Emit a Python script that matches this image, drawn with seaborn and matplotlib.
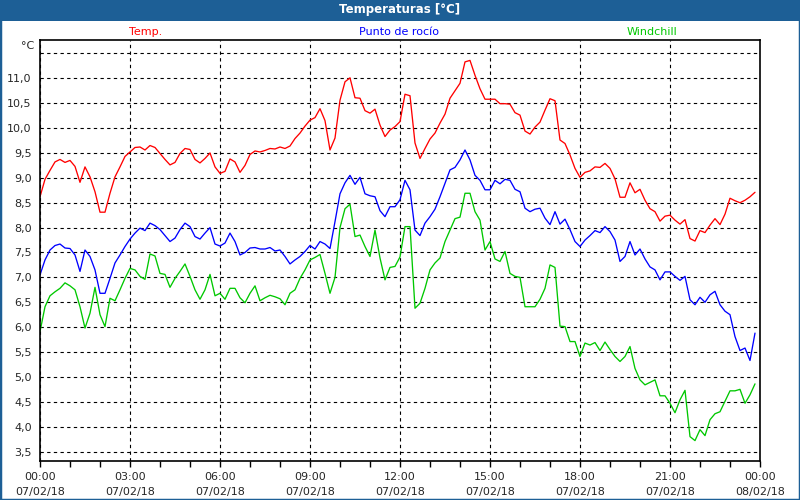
import matplotlib.pyplot as plt
import matplotlib.dates as mdates
import matplotlib.ticker as mticker
import pandas as pd
import seaborn as sns
from matplotlib.patches import Rectangle

sns.set_style('white')
plt.rcParams['font.family'] = ['DejaVu Sans']

# Lecturas cada 10 minutos del 07/02/18
times = pd.date_range('2018-02-07 00:00', periods=144, freq='10min')

temp = [8.62, 8.97, 9.15, 9.32, 9.37, 9.31, 9.35, 9.23, 8.91, 9.22,
        9.02, 8.72, 8.31, 8.31, 8.69, 9.02, 9.22, 9.43, 9.52, 9.61,
        9.62, 9.56, 9.65, 9.61, 9.49, 9.37, 9.26, 9.31, 9.49, 9.59,
        9.57, 9.37, 9.30, 9.39, 9.50, 9.22, 9.09, 9.13, 9.38, 9.32,
        9.11, 9.25, 9.47, 9.54, 9.52, 9.55, 9.59, 9.58, 9.62, 9.59,
        9.64, 9.79, 9.90, 10.04, 10.16, 10.21, 10.39, 10.15, 9.56, 9.80,
        10.56, 10.93, 11.01, 10.61, 10.60, 10.35, 10.30, 10.38, 10.06, 9.83,
        9.96, 10.03, 10.13, 10.68, 10.65, 9.70, 9.39, 9.59, 9.78, 9.90,
        10.10, 10.28, 10.60, 10.75, 10.90, 11.33, 11.36, 11.06, 10.79, 10.58,
        10.58, 10.58, 10.49, 10.49, 10.48, 10.31, 10.26, 9.94, 9.88, 10.02,
        10.12, 10.36, 10.59, 10.55, 9.76, 9.69, 9.46, 9.19, 9.01, 9.11,
        9.14, 9.22, 9.21, 9.29, 9.19, 8.98, 8.61, 8.61, 8.90, 8.70,
        8.77, 8.55, 8.38, 8.32, 8.13, 8.23, 8.25, 8.15, 8.07, 8.16,
        7.78, 7.73, 7.94, 7.90, 8.05, 8.18, 8.06, 8.27, 8.59, 8.54,
        8.50, 8.55, 8.62, 8.71]

dew = [7.05, 7.35, 7.55, 7.64, 7.67, 7.59, 7.58, 7.45, 7.12, 7.55,
       7.42, 7.15, 6.68, 6.68, 6.98, 7.29, 7.45, 7.62, 7.77, 7.89,
       7.99, 7.94, 8.09, 8.04, 7.96, 7.84, 7.72, 7.79, 7.96, 8.09,
       8.02, 7.82, 7.77, 7.89, 8.00, 7.67, 7.63, 7.69, 7.89, 7.72,
       7.45, 7.50, 7.59, 7.60, 7.57, 7.57, 7.60, 7.53, 7.55, 7.42,
       7.27, 7.35, 7.42, 7.52, 7.64, 7.57, 7.72, 7.67, 7.58, 8.12,
       8.68, 8.90, 9.05, 8.87, 9.01, 8.68, 8.64, 8.62, 8.34, 8.22,
       8.42, 8.42, 8.56, 8.95, 8.76, 7.95, 7.84, 8.09, 8.22, 8.37,
       8.62, 8.89, 9.16, 9.21, 9.36, 9.56, 9.36, 9.05, 8.95, 8.76,
       8.76, 8.95, 8.88, 8.97, 8.95, 8.77, 8.72, 8.39, 8.32, 8.37,
       8.39, 8.19, 8.06, 8.32, 8.07, 8.17, 7.96, 7.72, 7.62, 7.75,
       7.84, 7.94, 7.90, 8.02, 7.92, 7.75, 7.32, 7.42, 7.72, 7.45,
       7.57, 7.37, 7.21, 7.15, 6.95, 7.11, 7.11, 7.02, 6.94, 7.02,
       6.55, 6.45, 6.60, 6.50, 6.65, 6.72, 6.45, 6.32, 6.25, 5.81,
       5.53, 5.58, 5.33, 5.88]

windchill = [5.91, 6.41, 6.63, 6.71, 6.78, 6.89, 6.83, 6.75, 6.41, 5.98,
             6.28, 6.80, 6.25, 6.01, 6.58, 6.53, 6.75, 6.98, 7.18, 7.15,
             7.02, 6.96, 7.47, 7.43, 7.08, 7.06, 6.80, 6.98, 7.12, 7.27,
             7.02, 6.75, 6.56, 6.75, 7.06, 6.63, 6.68, 6.56, 6.78, 6.78,
             6.59, 6.49, 6.68, 6.83, 6.53, 6.59, 6.64, 6.61, 6.57, 6.45,
             6.68, 6.75, 6.98, 7.15, 7.35, 7.40, 7.46, 7.08, 6.68, 7.00,
             8.00, 8.38, 8.47, 7.82, 7.85, 7.62, 7.42, 7.95, 7.39, 6.95,
             7.20, 7.22, 7.41, 8.02, 8.02, 6.38, 6.48, 6.78, 7.15, 7.29,
             7.39, 7.72, 7.95, 8.18, 8.21, 8.69, 8.69, 8.32, 8.15, 7.55,
             7.72, 7.37, 7.32, 7.52, 7.08, 7.02, 7.00, 6.41, 6.41, 6.41,
             6.56, 6.78, 7.25, 7.20, 6.02, 6.01, 5.71, 5.71, 5.41, 5.68,
             5.64, 5.69, 5.53, 5.70, 5.55, 5.41, 5.31, 5.41, 5.61, 5.17,
             4.94, 4.84, 4.89, 4.94, 4.62, 4.62, 4.47, 4.28, 4.54, 4.73,
             3.80, 3.72, 3.94, 3.82, 4.14, 4.26, 4.30, 4.51, 4.72, 4.72,
             4.75, 4.47, 4.64, 4.86]

series = ['Temp.', 'Punto de rocío', 'Windchill']
colors = {'Temp.': '#ff0000', 'Punto de rocío': '#0000ff', 'Windchill': '#00c800'}

df = pd.DataFrame({'time': times, 'Temp.': temp,
                   'Punto de rocío': dew, 'Windchill': windchill})
df_long = df.melt(id_vars='time', var_name='serie', value_name='valor')

fig = plt.figure(figsize=(8, 5), dpi=100)
ax = fig.add_axes([40 / 800, 1 - 461 / 500, 720 / 800, 421 / 500])

sns.lineplot(data=df_long, x='time', y='valor', hue='serie', hue_order=series,
             palette=colors, linewidth=0.95, legend=False, ax=ax)

ax.set_xlim(pd.Timestamp('2018-02-07 00:00'), pd.Timestamp('2018-02-08 00:00'))
ax.set_ylim(3.31, 11.77)
ax.set_xlabel('')
ax.set_ylabel('')

ax.xaxis.set_major_locator(mdates.HourLocator(byhour=range(0, 24, 3)))
ax.xaxis.set_minor_locator(mdates.HourLocator())
ax.xaxis.set_major_formatter(mdates.DateFormatter('%H:%M\n%d/%m/%y'))
ax.yaxis.set_major_locator(mticker.MultipleLocator(0.5))
ax.yaxis.set_major_formatter(mticker.FuncFormatter(
    lambda v, p: '' if v > 11.2 else f'{v:.1f}'.replace('.', ',')))

ax.grid(True, which='major', color='black', linestyle=(0, (3, 3)), linewidth=0.8)
ax.tick_params(axis='x', which='both', direction='out', length=4, width=1,
               color='black', labelsize=8, pad=4, bottom=True)
ax.tick_params(axis='y', length=0, labelsize=8, pad=6)
plt.setp(ax.get_xticklabels(), linespacing=1.55)
for s in ax.spines.values():
    s.set_color('black')
    s.set_linewidth(1.2)

# Barra de título y marco
fig.patches.append(Rectangle((0, 1 - 21 / 500), 1, 21 / 500, transform=fig.transFigure,
                             facecolor='#1d5f96', edgecolor='none'))
fig.patches.append(Rectangle((0, 0), 1, 1, transform=fig.transFigure, fill=False,
                             edgecolor='#1d5f96', linewidth=2.5))
fig.text(0.5, 1 - 10 / 500, 'Temperaturas [°C]', color='white', fontsize=8.5,
         fontweight='bold', ha='center', va='center')

# Leyenda como texto coloreado
fig.text(146 / 800, 1 - 32 / 500, 'Temp.', color=colors['Temp.'], fontsize=8,
         ha='center', va='center')
fig.text(399 / 800, 1 - 32 / 500, 'Punto de rocío', color=colors['Punto de rocío'],
         fontsize=8, ha='center', va='center')
fig.text(652 / 800, 1 - 32 / 500, 'Windchill', color=colors['Windchill'], fontsize=8,
         ha='center', va='center')
fig.text(34 / 800, 1 - 46 / 500, '°C', fontsize=8, ha='right', va='center')

fig.savefig('out.png', dpi=100)
